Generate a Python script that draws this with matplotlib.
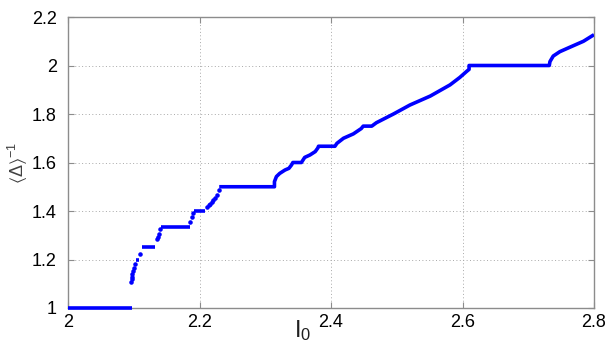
import matplotlib
matplotlib.use("Agg")
import matplotlib.pyplot as plt

plt.rcParams['font.family'] = ['Liberation Sans', 'DejaVu Sans']
plt.rcParams['mathtext.fontset'] = 'custom'
plt.rcParams['mathtext.rm'] = 'Liberation Sans'
plt.rcParams['mathtext.it'] = 'Liberation Sans:italic'
plt.rcParams['mathtext.sf'] = 'Liberation Sans'

# Mode-locked plateaus (start, end, level) in the early region
plateau_start = [2.000, 2.104, 2.112, 2.141, 2.191]
plateau_end = [2.097, 2.108, 2.133, 2.185, 2.208]
plateau_level = [1.000, 1.200, 1.250, 1.333, 1.400]

# Isolated points between the early plateaus
dots_x = [2.096, 2.097, 2.097, 2.098, 2.099, 2.100, 2.102, 2.110,
          2.135, 2.137, 2.138, 2.140, 2.186, 2.188, 2.190,
          2.211, 2.214, 2.216, 2.219, 2.221, 2.224, 2.226, 2.229]
dots_y = [1.108, 1.118, 1.127, 1.140, 1.152, 1.164, 1.180, 1.221,
          1.283, 1.294, 1.304, 1.325, 1.356, 1.374, 1.390,
          1.418, 1.424, 1.430, 1.438, 1.445, 1.455, 1.466, 1.487]

# Densely sampled branch from the 3/2 plateau onward
dense_x = [2.230, 2.314, 2.314, 2.317, 2.322, 2.330, 2.336, 2.340,
           2.342, 2.355, 2.360, 2.368, 2.376, 2.380, 2.381, 2.406,
           2.409, 2.419, 2.434, 2.446, 2.449, 2.462, 2.469, 2.495,
           2.520, 2.551, 2.581, 2.596, 2.606, 2.610, 2.610, 2.732,
           2.733, 2.738, 2.748, 2.763, 2.784, 2.800]
dense_y = [1.500, 1.500, 1.521, 1.542, 1.555, 1.569, 1.576, 1.590,
           1.600, 1.600, 1.621, 1.631, 1.645, 1.660, 1.667, 1.667,
           1.679, 1.700, 1.718, 1.740, 1.750, 1.750, 1.764, 1.800,
           1.837, 1.874, 1.920, 1.951, 1.975, 1.984, 2.000, 2.000,
           2.016, 2.039, 2.057, 2.075, 2.100, 2.127]

x_ticks = [2.0, 2.2, 2.4, 2.6, 2.8]
y_ticks = [1.0, 1.2, 1.4, 1.6, 1.8, 2.0, 2.2]

fig = plt.figure(figsize=(6.1, 3.45), dpi=100)
ax = fig.add_axes([68 / 610, 37 / 345, 526 / 610, 291 / 345])

blue = (0, 0, 1)
ax.hlines(plateau_level, plateau_start, plateau_end, colors=[blue],
          linewidth=2.6, clip_on=False, zorder=3)
ax.plot(dots_x, dots_y, '.', color=blue, markersize=4.5, zorder=3)
ax.plot(dense_x, dense_y, '-', color=blue, linewidth=2.6, zorder=3,
        solid_capstyle='butt')

ax.set_xlim(2.0, 2.8)
ax.set_ylim(1.0, 2.2)
ax.set_xticks(x_ticks)
ax.set_yticks(y_ticks)
ax.set_xticklabels([f"{v:g}" for v in x_ticks])
ax.set_yticklabels([f"{v:g}" for v in y_ticks])

edge = '#8c8c8c'
for s in ax.spines.values():
    s.set_color(edge)
    s.set_linewidth(1.0)
ax.tick_params(direction='in', length=4, width=0.8, color=edge,
               top=True, right=True, labelsize=13, labelcolor='black')
ax.tick_params(axis='x', pad=4)
ax.tick_params(axis='y', pad=8)
ax.grid(True, linestyle=(0, (1, 2.5)), color='#a8a8a8', linewidth=0.7)
ax.set_axisbelow(True)

ax.set_xlabel(r'$\mathregular{I_0}$', fontsize=17, color='#202020')
ax.xaxis.set_label_coords(0.447, -0.035)
ax.set_ylabel(r'$\mathregular{\langle\Delta\rangle^{-1}}$', fontsize=13,
              color='#404040')
ax.yaxis.set_label_coords(-0.072, 0.5)

fig.savefig('out.png', dpi=100, facecolor='white')
